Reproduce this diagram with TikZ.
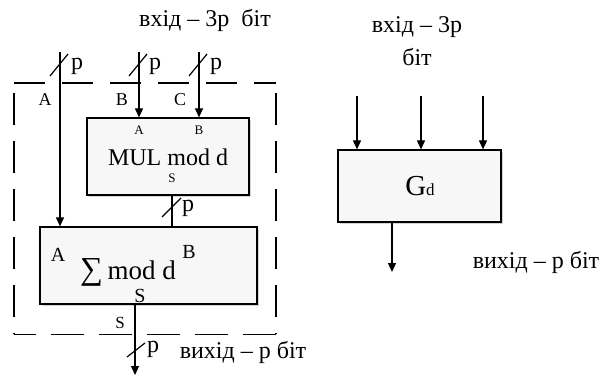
\documentclass[tikz,border=0pt]{standalone}
\usepackage{fontspec}
\setmainfont{Liberation Serif}
\usetikzlibrary{arrows.meta,shadows}
\begin{document}
\begin{tikzpicture}[x=1pt,y=-1pt,
  blk/.style={draw,line width=1.2pt,fill=gray!6,inner sep=0pt,
    drop shadow={shadow xshift=2pt,shadow yshift=-2pt,opacity=0.35}},
  wire/.style={line width=1.2pt},
  arr/.style={wire,-{Triangle[length=9pt,width=8pt]}},
  frameh/.style={line width=1.4pt,dash pattern=on 31pt off 17pt},
  framev/.style={line width=1.4pt,dash pattern=on 32pt off 16pt},
  frameb/.style={line width=1.4pt,dash pattern=on 33pt off 15pt},
  txt/.style={inner sep=0pt,font=\fontsize{#1}{#1}\selectfont},
  txt/.default=24]
\useasboundingbox (0,0) rectangle (609,379);

% dashed frame
\draw[frameh] (14,83) -- (276,83);
\draw[frameb] (276,334.5) -- (14,334.5);
\draw[framev] (14,93) -- (14,334);
\draw[framev] (276,93) -- (276,334);

% blocks
\node[blk,minimum width=162pt,minimum height=77pt] (mul) at (168,156.5) {};
\node[blk,minimum width=217pt,minimum height=77pt] (sum) at (148.5,265.5) {};
\node[blk,minimum width=163pt,minimum height=72pt] (g) at (419.5,186) {};

% input coordinates
\coordinate (inA) at (60,52);
\coordinate (inB) at (139,52);
\coordinate (inC) at (199,52);
\coordinate (mo) at (172,195);
\coordinate (so) at (135,375);
\coordinate (gi1) at (357,96);
\coordinate (gi2) at (421,96);
\coordinate (gi3) at (483,96);
\coordinate (go) at (392,272);

% connectors
\draw[arr] (inA) -- (inA |- sum.north);
\draw[arr] (inB) -- (inB |- mul.north);
\draw[arr] (inC) -- (inC |- mul.north);
\draw[wire] (mo |- mul.south) -- (mo |- sum.north);
\draw[arr] (so |- sum.south) -- (so);
\draw[arr] (gi1) -- (gi1 |- g.north);
\draw[arr] (gi2) -- (gi2 |- g.north);
\draw[arr] (gi3) -- (gi3 |- g.north);
\draw[arr] (go |- g.south) -- (go);

% bus slashes
\draw[wire] (50,76) -- (68,54);
\draw[wire] (129,76) -- (147,54);
\draw[wire] (189,76) -- (207,54);
\draw[wire] (162,217) -- (181,198);
\draw[wire] (127,357) -- (145,343);

% p labels
\node[txt] (p1) at (77,66) {p};
\node[txt] (p2) at (155,66) {p};
\node[txt] (p3) at (216,66) {p};
\node[txt] (p4) at (188,208) {p};
\node[txt] (p5) at (153,349) {p};

% texts
\node[txt] (t1) at (205,20) {вхід – 3р\ \ біт};
\node[txt=18] (la) at (45,100) {A};
\node[txt=18] (lb) at (122,100) {B};
\node[txt=18] (lc) at (180,100) {C};
\node[txt=13] (ma) at (139,130) {A};
\node[txt=13] (mb) at (199,130) {B};
\node[txt] (mt) at (168,157) {MUL mod d};
\node[txt=13] (ms) at (172,178) {S};
\node[txt=20] (sa) at (58,255) {A};
\node[txt=20] (sb) at (189,252) {B};
\node[txt=27,anchor=base] (st) at (128,279) {{\fontsize{32}{32}\selectfont ∑}\,mod d};
\node[txt=20] (ss) at (140,296) {S};
\node[txt=17] (os) at (120,323) {S};
\node[txt] (t2) at (243,352) {вихід – р біт};
\node[txt] (t3) at (417,27) {вхід – 3р};
\node[txt] (t4) at (417,57) {біт};
\node[txt] (gt) at (420,186) {{\fontsize{29}{29}\selectfont G}{\fontsize{17}{17}\selectfont d}};
\node[txt] (t5) at (536,262) {вихід – р біт};
\end{tikzpicture}
\end{document}
